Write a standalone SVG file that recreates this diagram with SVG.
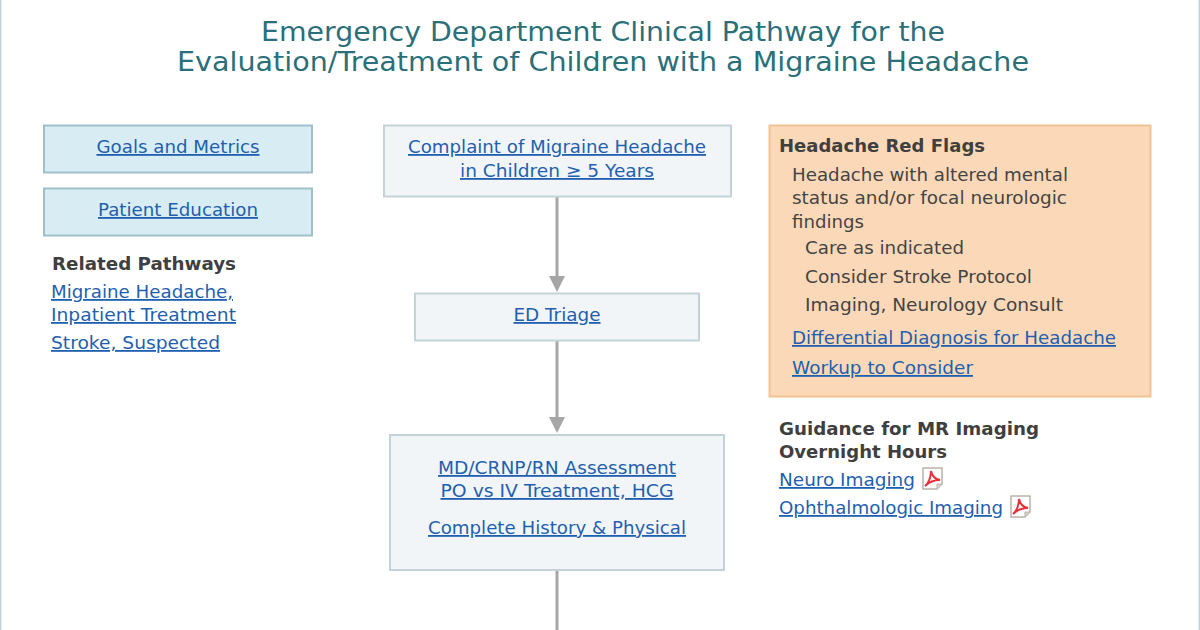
<svg xmlns="http://www.w3.org/2000/svg" width="1200" height="630" viewBox="0 0 1200 630">
<style>
text{font-family:"DejaVu Sans",Verdana,sans-serif;font-size:18px}
.t{font-size:26px;fill:#2b6f78;text-anchor:middle}
.l{fill:#1f5fb0;text-decoration:underline}
.c{text-anchor:middle}
.b{font-weight:bold;fill:#3f3f3f}
.d{fill:#444}
.blue{fill:#d8edf3;stroke:#9fbfca;stroke-width:2}
.grey{fill:#f2f5f7;stroke:#c4d3d8;stroke-width:2}
.conn{stroke:#a6a6a6;stroke-width:3;fill:none}
.head{fill:#a6a6a6}
</style>
<defs>
<g id="pdf"><path d="M1 0H20V16L15 21H1Z" fill="#fff" stroke="#b9b2a8" stroke-width="1.5"/><path d="M15 21V16H20" fill="#d8d2c8" stroke="#b9b2a8"/><path d="M3 18C7 15 9 8 9 3C10 8 13 11 18 12C13 12 8 13 3 18Z" fill="none" stroke="#e8303a" stroke-width="2"/></g>
</defs>
<rect width="1200" height="630" fill="#fff"/>
<rect x="0" y="0" width="1.5" height="630" fill="#c4d3d8"/>
<rect x="1198.5" y="0" width="1.5" height="630" fill="#c4d3d8"/>
<g id="title">
<text class="t" x="603" y="41" textLength="684" lengthAdjust="spacingAndGlyphs">Emergency Department Clinical Pathway for the</text>
<text class="t" x="603" y="71" textLength="852" lengthAdjust="spacingAndGlyphs">Evaluation/Treatment of Children with a Migraine Headache</text>
</g>
<g id="connectors">
<path class="conn" d="M557 197V276"/><path class="head" d="M549 276H565L557 292Z"/>
<path class="conn" d="M557 340V417"/><path class="head" d="M549 417H565L557 433Z"/>
<path class="conn" d="M557 570V630"/>
</g>
<g id="goals"><rect class="blue" x="44" y="125.500" width="268" height="47"/><a><text class="l c" x="178" y="153" textLength="163" lengthAdjust="spacingAndGlyphs">Goals and Metrics</text></a></g>
<g id="education"><rect class="blue" x="44" y="188.500" width="268" height="47"/><a><text class="l c" x="178" y="216" textLength="160" lengthAdjust="spacingAndGlyphs">Patient Education</text></a></g>
<g id="related">
<text class="b" x="52" y="270" textLength="184" lengthAdjust="spacingAndGlyphs">Related Pathways</text>
<text class="l" x="51" y="298" textLength="182" lengthAdjust="spacingAndGlyphs">Migraine Headache,</text>
<text class="l" x="51" y="321" textLength="185" lengthAdjust="spacingAndGlyphs">Inpatient Treatment</text>
<text class="l" x="51" y="349" textLength="169" lengthAdjust="spacingAndGlyphs">Stroke, Suspected</text>
</g>
<g id="complaint"><rect class="grey" x="384" y="125.500" width="347" height="71"/>
<text class="l c" x="557" y="153" textLength="298" lengthAdjust="spacingAndGlyphs">Complaint of Migraine Headache</text>
<text class="l c" x="557" y="177" textLength="194" lengthAdjust="spacingAndGlyphs">in Children ≥ 5 Years</text></g>
<g id="triage"><rect class="grey" x="415" y="293.500" width="284" height="47"/><text class="l c" x="557" y="321" textLength="87" lengthAdjust="spacingAndGlyphs">ED Triage</text></g>
<g id="assessment"><rect class="grey" x="390" y="435" width="334" height="135"/>
<text class="l c" x="557" y="474" textLength="238" lengthAdjust="spacingAndGlyphs">MD/CRNP/RN Assessment</text>
<text class="l c" x="557" y="497" textLength="233" lengthAdjust="spacingAndGlyphs">PO vs IV Treatment, HCG</text>
<text class="l c" x="557" y="534" textLength="258" lengthAdjust="spacingAndGlyphs">Complete History &amp; Physical</text></g>
<g id="redflags"><rect x="769.500" y="125.500" width="381" height="271" fill="#fbd9b8" stroke="#f2c193" stroke-width="2"/>
<text class="b" x="779" y="152" textLength="206" lengthAdjust="spacingAndGlyphs">Headache Red Flags</text>
<text class="d" x="792" y="181" textLength="276" lengthAdjust="spacingAndGlyphs">Headache with altered mental</text>
<text class="d" x="792" y="204" textLength="275" lengthAdjust="spacingAndGlyphs">status and/or focal neurologic</text>
<text class="d" x="792" y="228" textLength="72" lengthAdjust="spacingAndGlyphs">findings</text>
<text class="d" x="805" y="254" textLength="159" lengthAdjust="spacingAndGlyphs">Care as indicated</text>
<text class="d" x="805" y="283" textLength="227" lengthAdjust="spacingAndGlyphs">Consider Stroke Protocol</text>
<text class="d" x="805" y="311" textLength="258" lengthAdjust="spacingAndGlyphs">Imaging, Neurology Consult</text>
<text class="l" x="792" y="344" textLength="324" lengthAdjust="spacingAndGlyphs">Differential Diagnosis for Headache</text>
<text class="l" x="792" y="374" textLength="181" lengthAdjust="spacingAndGlyphs">Workup to Consider</text></g>
<g id="guidance">
<text class="b" x="779" y="435" textLength="260" lengthAdjust="spacingAndGlyphs">Guidance for MR Imaging</text>
<text class="b" x="779" y="458" textLength="168" lengthAdjust="spacingAndGlyphs">Overnight Hours</text>
<text class="l" x="779" y="486" textLength="136" lengthAdjust="spacingAndGlyphs">Neuro Imaging</text>
<use href="#pdf" x="922" y="468"/>
<text class="l" x="779" y="514" textLength="224" lengthAdjust="spacingAndGlyphs">Ophthalmologic Imaging</text>
<use href="#pdf" x="1010" y="496"/>
</g>
</svg>
